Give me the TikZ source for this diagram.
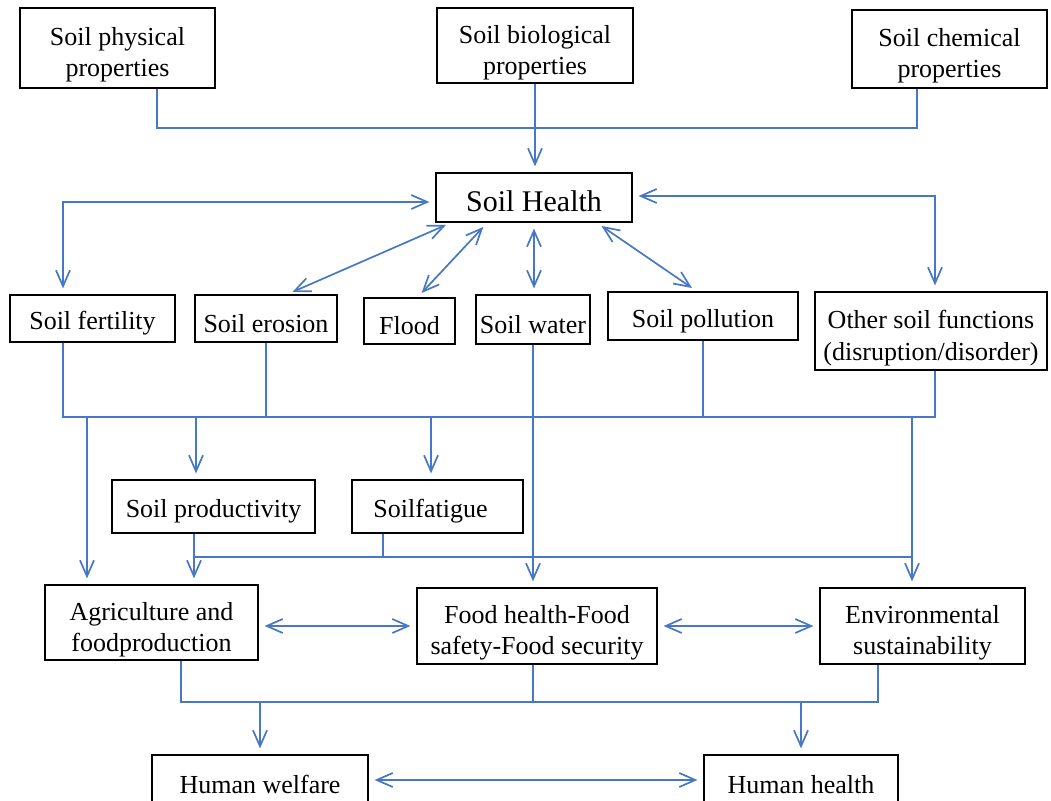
\documentclass[tikz,border=0pt]{standalone}
\usepackage{fontspec}
\setmainfont{Liberation Serif}
\usetikzlibrary{arrows.meta,positioning}
\definecolor{linkblue}{RGB}{70,120,196}
\newcommand{\firstline}{\rule{0pt}{15.8pt}}
\tikzset{
    every node/.style={font=\fontsize{13}{15.5}\selectfont},
    plain/.style={draw=linkblue, line width=0.85pt},
    line/.style={plain, -{Straight Barb[length=8pt,width=7pt]}, shorten >=3pt},
    dline/.style={plain, {Straight Barb[length=8pt,width=7pt]}-{Straight Barb[length=8pt,width=7pt]}, shorten >=3pt, shorten <=3pt},
    process/.style={rectangle, draw, line width=0.6pt, align=center, inner sep=1pt,
        execute at begin node={\rule{0pt}{13.8pt}}}
}

\begin{document}
\begin{tikzpicture}[
    x=0.5pt, y=-0.5pt,
    % pixel grid of the figure
]
\useasboundingbox (0,0) rectangle (1051,801);

\node[process, minimum width=97.5pt, minimum height=40pt] (phys) at (117.5,48) {\firstline Soil physical\\properties};
\node[process, minimum width=98pt, minimum height=37.5pt] (bio) at (535,45.5) {\firstline Soil biological\\properties};
\node[process, minimum width=97.5pt, minimum height=39pt] (chem) at (949.5,49) {\firstline Soil chemical\\properties};
\node[process, minimum width=98pt, minimum height=24.5pt, font=\fontsize{15}{17}\selectfont] (health) at (534,197.5) {Soil Health};

\node[process, minimum width=82.5pt, minimum height=23.5pt] (fert) at (92.5,318.5) {Soil fertility};
\node[process, minimum width=71pt, minimum height=23.5pt] (eros) at (266,318.5) {Soil erosion};
\node[process, minimum width=45.5pt, minimum height=23pt] (flood) at (409.5,321) {Flood};
\node[process, minimum width=57pt, minimum height=24.5pt] (water) at (533,319.5) {Soil water};
\node[process, minimum width=95pt, minimum height=24pt] (poll) at (703,316) {Soil pollution};
\node[process, minimum width=116pt, minimum height=39pt, font=\fontsize{13}{16}\selectfont] (other) at (931,331) {\firstline Other soil functions\\(disruption/disorder)};

\node[process, minimum width=101.5pt, minimum height=26.5pt] (prod) at (213.5,506.5) {Soil productivity};
\node[process, minimum width=85.5pt, minimum height=26.5pt] (fatigue) at (437.5,506.5) {Soilfatigue\hspace{7pt}};

\node[process, minimum width=106.5pt, minimum height=37.5pt] (agri) at (151.5,622.5) {\firstline Agriculture and\\foodproduction};
\node[process, minimum width=120pt, minimum height=38pt] (food) at (537,626) {\firstline Food health-Food\\safety-Food security};
\node[process, minimum width=102.5pt, minimum height=38pt] (env) at (922.5,626) {\firstline Environmental\\sustainability};

\node[process, minimum width=108pt, minimum height=25pt] (welfare) at (260,780) {Human welfare};
\node[process, minimum width=97pt, minimum height=25pt] (hhealth) at (801,780) {Human health};

% bus points
\coordinate (t1) at (157,128);
\coordinate (t2) at (917,128);
\coordinate (c1) at (63,202);
\coordinate (c2) at (935,196);
\coordinate (m1) at (63,417);
\coordinate (m2) at (935,417);
\coordinate (d1) at (87,417);
\coordinate (d2) at (196,417);
\coordinate (d3) at (431,417);
\coordinate (d4) at (912,417);
\coordinate (l1) at (194,557);
\coordinate (l2) at (912,557);
\coordinate (l3) at (383,557);
\coordinate (e1) at (181,702);
\coordinate (e2) at (878,702);
\coordinate (e3) at (533,702);

\draw[plain] (phys.south -| t1) -- (t1) -- (t2) -- (chem.south -| t2);
\draw[line] (bio.south) -- (bio.south |- health.north);

\draw[dline] (health.west |- c1) -| (fert.north -| c1);
\draw[dline] (health.east |- c2) -| (other.north -| c2);
\draw[dline] ([xshift=8pt]health.south west) -- ([xshift=10.5pt]eros.north);
\draw[dline] ([xshift=26pt]health.south west) -- ([xshift=4pt]flood.north);
\draw[dline] (health.south) -- (health.south |- water.north);
\draw[dline] ([xshift=-18pt]health.south east) -- ([xshift=-3pt]poll.north);

\draw[plain] (fert.south -| m1) -- (m1) -- (m2) -- (other.south -| m2);
\draw[plain] (eros.south) -- (eros.south |- m1);
\draw[plain] (poll.south) -- (poll.south |- m1);
\draw[line] (water.south -| e3) -- (food.north -| e3);

\draw[line] (d1) -- (agri.north -| d1);
\draw[line] (d2) -- (prod.north -| d2);
\draw[line] (d3) -- (fatigue.north -| d3);
\draw[line] (d4) -- (env.north -| d4);

\draw[plain] (prod.south -| l1) -- (l1) -- (l2);
\draw[plain] (fatigue.south -| l3) -- (l3);
\draw[line] (l1) -- (agri.north -| l1);

\draw[dline] (agri.east |- food.west) -- (food.west);
\draw[dline] (food.east) -- (env.west);

\draw[plain] (agri.south -| e1) -- (e1) -- (e2) -- (env.south -| e2);
\draw[plain] (food.south -| e3) -- (e3);
\draw[line] (welfare.north |- e1) -- (welfare.north);
\draw[line] (hhealth.north |- e1) -- (hhealth.north);

\draw[dline] (welfare.east) -- (hhealth.west);

\end{tikzpicture}
\end{document}
